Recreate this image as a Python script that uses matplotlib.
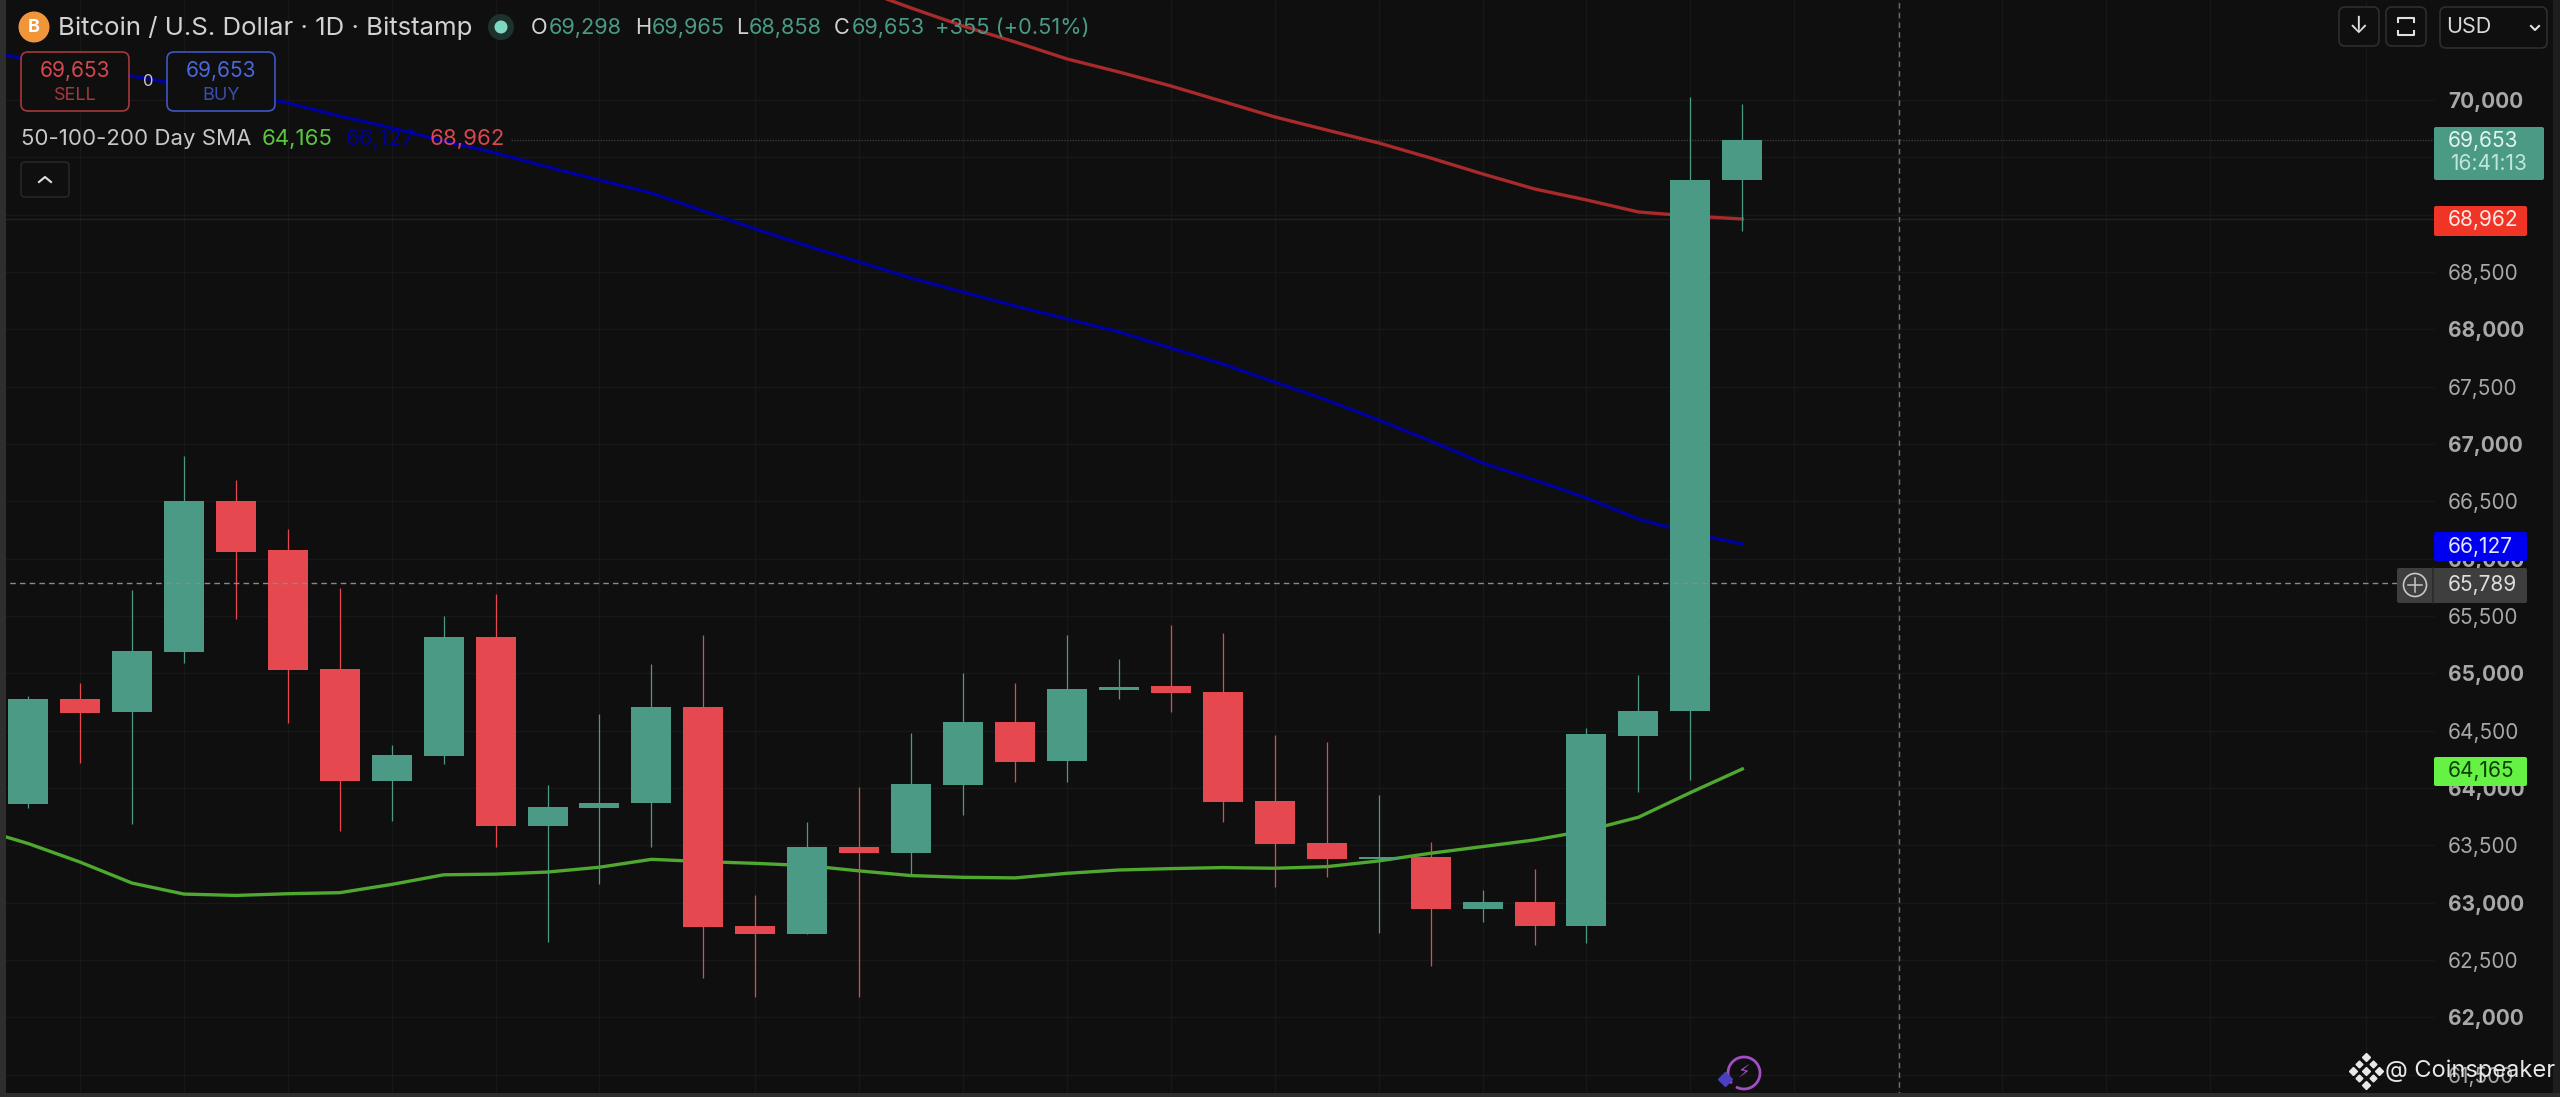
import matplotlib
matplotlib.use('Agg')
import matplotlib.pyplot as plt
from matplotlib.patches import Rectangle, FancyBboxPatch, Circle, Arc

plt.rcParams['font.family'] = ['Inter', 'DejaVu Sans']

opens = [63863,64773,64659,65185,66506,66074,65034,64059,64278,65320,63668,63824,
         63866,64703,62799,62726,63482,63430,64026,64578,64238,64854,64889,64837,
         63889,63523,63377,63400,62944,63002,62799,64456,64668,69298]
highs = [64803,64914,65725,66896,66686,66260,65746,64374,65500,65695,64028,64644,
         65078,65334,63066,63706,64011,64476,64999,64912,65334,65122,65421,65348,
         64462,64404,63938,63531,63110,63290,64520,64985,70029,69965]
lows = [63827,64215,63689,65086,65470,64569,63623,63713,64209,63488,62653,63158,
        63482,62340,62180,62726,62180,63241,63764,64055,64055,64776,64665,63706,
        63139,63220,62732,62450,62834,62630,62645,63967,64069,68858]
closes = [64773,64650,65194,66506,66058,65026,64059,64284,65320,63668,63830,63872,
          64703,62790,62726,63482,63430,64034,64578,64229,64863,64883,64831,63880,
          63511,63377,63400,62944,63002,62799,64467,64668,69298,69653]

# both of these start one day left of the first candle
sma50 = [63650,63515,63353,63170,63074,63062,63077,63086,63158,63242,63248,63266,63308,
         63377,63357,63342,63322,63276,63235,63220,63215,63255,63284,63296,63305,
         63299,63313,63363,63430,63488,63546,63627,63744,63959,64165]
sma100 = [70454,70349,70279,70209,70131,70061,69974,69860,69756,69642,69538,69416,69302,
          69189,69032,68875,68727,68587,68447,68325,68203,68090,67977,67837,67697,
          67540,67383,67209,67026,66834,66686,66529,66345,66223,66127]
sma200 = [70968,70802,70645,70506,70358,70244,70122,69987,69852,69738,69625,69494,
          69355,69224,69128,69023,68988,68962]
sma200_start = 16

price_ticks = list(range(61000,70001,500))
grid_days = [1,3,5,7,9,11,14,16,18,20,22,24,26,28,30,32,34,36,38,40,42,45]

BG = '#0f0f0f'
GREEN = '#4a9a86'
RED = '#e5484f'
GRID = '#181818'
XMIN, XMAX = -0.54, 48.74
YMIN, YMAX = 61304, 70872

fig = plt.figure(figsize=(25.6,10.97),dpi=100,facecolor=BG)
ax = fig.add_axes([0,0,1,1],facecolor=BG)
days = list(range(len(closes)))
right_end = 46.32

ax.hlines(price_ticks,XMIN,right_end,color=GRID,lw=1,zorder=1)
ax.vlines(grid_days,YMIN,YMAX,color=GRID,lw=1,zorder=1)

# price lines behind the candles
ax.hlines(closes[-1],9.29,right_end+0.1,color='#3c3c3c',lw=1,ls=(0,(1,1)),zorder=2)
ax.hlines(sma200[-1],XMIN,right_end,color='#222222',lw=1,zorder=2)
ax.hlines(65789,XMIN,45.6,color='#8a8a8a',lw=1,ls=(0,(4,3)),zorder=6)
ax.axvline(36.02,color='#6e6e6e',lw=1,ls=(0,(4,3)),zorder=6)

ax.plot(range(-1,len(sma50)-1),sma50,color='#4fa82f',lw=2.4,zorder=3,solid_joinstyle='round')
ax.plot(range(-1,len(sma100)-1),sma100,color='#00009c',lw=2.4,zorder=3)
ax.plot(range(sma200_start,sma200_start+len(sma200)),sma200,color='#a82a2a',lw=2.4,zorder=3)

colors = [GREEN if c>=o else RED for o,c in zip(opens,closes)]
ax.vlines(days,lows,highs,colors=colors,lw=0.9,zorder=4)
ax.bar(days,[abs(c-o) for o,c in zip(opens,closes)],bottom=[min(o,c) for o,c in zip(opens,closes)],
       width=0.77,color=colors,zorder=5)

ax.yaxis.tick_right()
ax.set_yticks(price_ticks)
ax.set_yticklabels([f'{p:,}' for p in price_ticks])
ax.set_xlim(XMIN,XMAX)
ax.set_ylim(YMIN,YMAX)
ax.tick_params(axis='y',direction='in',length=0,pad=-80.5,labelsize=15,labelcolor='#a8a8a8')
for lab,p in zip(ax.get_yticklabels(),price_ticks):
    if p%1000==0:
        lab.set_fontweight('bold')
ax.tick_params(axis='x',length=0,labelbottom=False)
for s in ax.spines.values():
    s.set_visible(False)

# interface parts, in picture pixels
ui = fig.add_axes([0,0,1,1],facecolor='none')
ui.set_xlim(0,2560)
ui.set_ylim(1097,0)
ui.axis('off')

def box(x0,y0,x1,y1,fc,ec='none',r=2,lw=1.2):
    ui.add_patch(FancyBboxPatch((x0+r,y0+r),x1-x0-2*r,y1-y0-2*r,boxstyle=f'round,pad={r},rounding_size={r}',
                                fc=fc,ec=ec,lw=lw))

def label(x,y,s,color,size=15,ha='left',**kw):
    ui.text(x,y,s,color=color,fontsize=size,ha=ha,va='center',**kw)

ui.add_patch(Rectangle((0,0),6,1097,fc='#2e2e2e',ec='none'))
ui.add_patch(Rectangle((2553,0),7,1097,fc='#1e1e1e',ec='none'))
ui.add_patch(Rectangle((0,1093),2560,4,fc='#2e2e2e',ec='none'))

# header
ui.add_patch(Circle((34,27),15.5,fc='#f0953a',ec='none'))
label(34,28,'B','#ffffff',size=13,ha='center',fontweight='bold')
label(58,28,'Bitcoin / U.S. Dollar · 1D · Bitstamp','#d2d2d2',size=18.6)
ui.add_patch(Circle((501,27),13,fc='#1d322d',ec='none'))
ui.add_patch(Circle((501,27),6.5,fc='#7fd9c2',ec='none'))
for x,s in [(531,'O'),(635,'H'),(736,'L'),(834,'C')]:
    label(x,28,s,'#d2d2d2',size=15.7)
for x,s in [(549,'69,298'),(652,'69,965'),(749,'68,858'),(852,'69,653'),(935,'+355 (+0.51%)')]:
    label(x,28,s,'#4a9a86',size=15.7)

# trade buttons
box(21,52,129,111,BG,ec='#a5383c',r=7)
box(167,52,275,111,BG,ec='#3f56c4',r=7)
label(75,71,'69,653','#d9474f',size=15,ha='center')
label(75,95,'SELL','#a8383e',size=13,ha='center')
label(221,71,'69,653','#4a68dc',size=15,ha='center')
label(221,95,'BUY','#3a4fb0',size=13,ha='center')
label(148,81,'0','#c8c8c8',size=12,ha='center')

# legend
label(21,139,'50-100-200 Day SMA','#c8c8c8',size=16)
label(262,139,'64,165','#58c83c',size=16)
label(346,139,'66,127','#00009c',size=16)
label(430,139,'68,962','#d9474f',size=16)
box(21,162,69,197,BG,ec='#262626',r=4)
ui.plot([39,45,51],[182,177,182],color='#e0e0e0',lw=1.5)

# top right buttons
box(2339,7,2379,46,BG,ec='#2e2e2e',r=6)
box(2386,7,2426,46,BG,ec='#2e2e2e',r=6)
box(2440,7,2547,48,BG,ec='#2e2e2e',r=6)
label(2359,27,'↓','#e0e0e0',size=17,ha='center')
ui.plot([2398,2398,2414,2414],[22,18,18,22],color='#e0e0e0',lw=1.5)
ui.plot([2398,2398,2414,2414],[31,35,35,31],color='#e0e0e0',lw=1.5)
label(2446,27,'USD','#d8d8d8',size=15.5)
ui.plot([2531,2535,2539],[26,30,26],color='#e0e0e0',lw=1.5)

# price tags
box(2434,127,2544,180,'#4a9a86')
label(2448,141,'69,653','#e4f4ee',size=15)
label(2450,164,'16:41:13','#c0e6da',size=15)
box(2434,206,2527,236,'#f03527')
label(2448,220,'68,962','#ffe9e4',size=15)
box(2434,532,2527,561,'#0000f0')
label(2448,547,'66,127','#e6e6ff',size=15)
box(2397,568,2527,603,'#3e3e3e')
ui.plot([2433,2433],[568,603],color='#2a2a2a',lw=1.2)
label(2448,585,'65,789','#dedede',size=15)
ui.add_patch(Circle((2415,585),11.5,fc='none',ec='#c8c8c8',lw=1.2))
ui.plot([2408,2422],[585,585],color='#c8c8c8',lw=1.1)
ui.plot([2415,2415],[578,592],color='#c8c8c8',lw=1.1)
box(2434,757,2527,786,'#66f244')
label(2448,771,'64,165','#0e3d08',size=15)

# logo in the lower part
ui.add_patch(Arc((1744,1073),32,32,theta1=-220,theta2=120,ec='#a24fc4',lw=2))
label(1744,1073,'⚡','#a24fc4',size=13,ha='center')
ui.plot([1725],[1079],marker='D',ms=7,color='#4a3fc0',ls='none')

# watermark
for dx,dy,ms in [(0,-14,4.5),(0,14,4.5),(-13,0,4.5),(13,0,4.5),(0,0,4),(-7,-7,3.5),(7,-7,3.5),(-7,7,3.5),(7,7,3.5)]:
    ui.plot([2366+dx],[1071+dy],marker='D',ms=ms,color='#e8e8e8',ls='none')
label(2385,1071,'@ Coinspeaker','#e8e8e8',size=17)

fig.savefig('out.png',dpi=100,facecolor=BG)
